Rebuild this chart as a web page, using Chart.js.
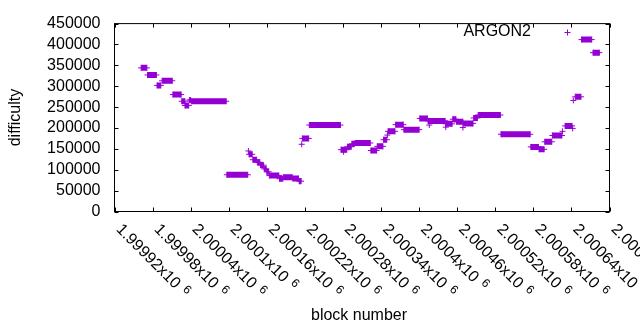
<!DOCTYPE html>
<html>
<head>
<meta charset="utf-8">
<script src="https://cdn.jsdelivr.net/npm/chart.js@4/dist/chart.umd.min.js"></script>
<style>
  html, body { margin: 0; padding: 0; background: #fff; }
  canvas { display: block; }
</style>
</head>
<body>
<canvas id="chart" width="640" height="330"></canvas>
<script>
// runs of blocks sharing the same difficulty
const runFirst = [
    1999962, 1999972, 1999987, 1999995, 2000012, 2000026, 2000031, 2000038, 2000041,
    2000097, 2000131, 2000132, 2000138, 2000145, 2000150, 2000156, 2000160, 2000164,
    2000180, 2000186, 2000201, 2000211, 2000215, 2000216, 2000227, 2000277, 2000281,
    2000287, 2000294, 2000299, 2000324, 2000334, 2000344, 2000350, 2000351, 2000363,
    2000376, 2000401, 2000414, 2000416, 2000442, 2000442, 2000453, 2000459, 2000469,
    2000470, 2000486, 2000493, 2000529, 2000576, 2000589, 2000598, 2000610, 2000626,
    2000630, 2000642, 2000643, 2000646, 2000656, 2000674
];
const runLast = [
    1999971, 1999986, 1999993, 2000011, 2000025, 2000031, 2000037, 2000040, 2000096,
    2000130, 2000131, 2000137, 2000144, 2000149, 2000155, 2000159, 2000163, 2000179,
    2000185, 2000200, 2000210, 2000214, 2000215, 2000226, 2000276, 2000286, 2000281,
    2000293, 2000298, 2000323, 2000333, 2000343, 2000349, 2000350, 2000362, 2000375,
    2000400, 2000413, 2000441, 2000416, 2000452, 2000442, 2000458, 2000469, 2000469,
    2000485, 2000492, 2000528, 2000575, 2000588, 2000597, 2000609, 2000625, 2000626,
    2000641, 2000642, 2000643, 2000655, 2000672, 2000684
];
const runDifficulty = [
    344000, 327000, 302000, 313000, 280000, 264000, 254000, 267000, 264000,
    88000, 145000, 137000, 124000, 118000, 111000, 102000, 95000, 86000,
    78500, 82000, 79000, 72700, 161000, 175000, 207000, 148000, 143000,
    155000, 162000, 164000, 146000, 156000, 172000, 183000, 192000, 208000,
    196000, 223000, 217000, 207000, 210000, 202000, 221000, 215000, 201000,
    211000, 224000, 231000, 185000, 154700, 149000, 167000, 182000, 192000,
    205000, 199000, 266000, 274700, 411700, 380400
];

const xMin = 1999920, xMax = 2000700, xStep = 60;
const yMin = 0, yMax = 450000, yStep = 50000;
const seriesName = 'ARGON2';
const xTitle = 'block number';
const yTitle = 'difficulty';

const purple = '#9400d3';
const font = '"Liberation Sans", Arial, sans-serif';

const plateauPoints = [];
const markerPoints = [];
runFirst.forEach((first, i) => {
    const last = runLast[i];
    const d = runDifficulty[i];
    plateauPoints.push({ x: first, y: d }, { x: last, y: d }, { x: last, y: null });
    markerPoints.push({ x: first, y: d });
    if (last !== first) markerPoints.push({ x: last, y: d });
});

function gnuNum(v) {
    return parseFloat((v / 1e6).toPrecision(6)).toString();
}

function drawCross(ctx, x, y, r) {
    ctx.beginPath();
    ctx.moveTo(x - r, y); ctx.lineTo(x + r, y);
    ctx.moveTo(x, y - r); ctx.lineTo(x, y + r);
    ctx.stroke();
}

// gnuplot look: border box, inward ticks, slanted x labels, titles and key
const gnuplotFrame = {
    id: 'gnuplotFrame',
    afterDraw(chart) {
        const ctx = chart.ctx;
        const a = chart.chartArea;
        const xs = chart.scales.x, ys = chart.scales.y;
        ctx.save();
        ctx.strokeStyle = '#000';
        ctx.lineWidth = 1;
        ctx.strokeRect(a.left, a.top, a.right - a.left, a.bottom - a.top);

        ctx.beginPath();
        xs.ticks.forEach(t => {
            const px = Math.round(xs.getPixelForValue(t.value)) + 0.5;
            ctx.moveTo(px, a.bottom); ctx.lineTo(px, a.bottom - 4);
            ctx.moveTo(px, a.top); ctx.lineTo(px, a.top + 4);
        });
        ys.ticks.forEach(t => {
            const py = Math.round(ys.getPixelForValue(t.value)) + 0.5;
            ctx.moveTo(a.left, py); ctx.lineTo(a.left + 4, py);
            ctx.moveTo(a.right, py); ctx.lineTo(a.right - 4, py);
        });
        ctx.stroke();

        ctx.fillStyle = '#000';
        ctx.textAlign = 'left';
        ctx.textBaseline = 'middle';
        xs.ticks.forEach(t => {
            const px = xs.getPixelForValue(t.value);
            const main = gnuNum(t.value) + 'x10';
            ctx.save();
            ctx.translate(px + 4, 227);
            ctx.rotate(Math.PI / 4);
            ctx.font = '16px ' + font;
            ctx.fillText(main, 0, 0);
            const w = ctx.measureText(main).width;
            ctx.font = '12px ' + font;
            ctx.fillText('6', w + 6, -4);
            ctx.restore();
        });

        ctx.font = '16px ' + font;
        ctx.textAlign = 'center';
        ctx.fillText(xTitle, 359, 316);
        ctx.save();
        ctx.translate(16, (a.top + a.bottom) / 2);
        ctx.rotate(-Math.PI / 2);
        ctx.fillText(yTitle, 0, 0);
        ctx.restore();

        ctx.textAlign = 'right';
        ctx.fillText(seriesName, 531, 32);
        ctx.strokeStyle = purple;
        drawCross(ctx, 567.5, 32.5, 3);
        ctx.restore();
    }
};

new Chart(document.getElementById('chart'), {
    type: 'line',
    data: {
        datasets: [
            {
                label: seriesName,
                data: plateauPoints,
                borderColor: purple,
                borderWidth: 6,
                borderCapStyle: 'butt',
                pointRadius: 0,
                spanGaps: false,
                tension: 0
            },
            {
                label: seriesName,
                data: markerPoints,
                showLine: false,
                pointStyle: 'cross',
                pointRadius: 3,
                pointHoverRadius: 3,
                pointBorderWidth: 1,
                pointBorderColor: purple,
                pointBackgroundColor: purple
            }
        ]
    },
    options: {
        responsive: false,
        animation: false,
        devicePixelRatio: 1,
        layout: { padding: { top: 19.5, right: 30.5, left: 0, bottom: 0 } },
        plugins: { legend: { display: false }, tooltip: { enabled: false } },
        scales: {
            x: {
                type: 'linear',
                min: xMin,
                max: xMax,
                ticks: { display: false, stepSize: xStep, autoSkip: false },
                grid: { display: false, drawTicks: false },
                border: { display: false },
                afterFit: s => { s.height = 118.5; }
            },
            y: {
                min: yMin,
                max: yMax,
                ticks: {
                    stepSize: yStep,
                    autoSkip: false,
                    color: '#000',
                    padding: 14,
                    font: { family: font, size: 16 },
                    callback: v => String(v)
                },
                grid: { display: false, drawTicks: false },
                border: { display: false },
                afterFit: s => { s.height = s.height; s.width = 114.5; }
            }
        }
    },
    plugins: [gnuplotFrame]
});
</script>
</body>
</html>
